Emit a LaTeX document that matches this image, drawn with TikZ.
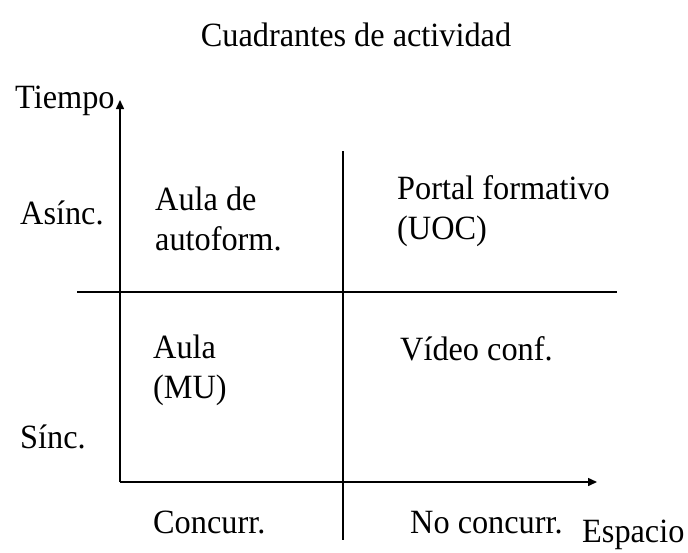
\documentclass[tikz,border=0pt]{standalone}
\usepackage{fontspec}
\setmainfont{Liberation Serif}[FakeStretch=0.95]
\usetikzlibrary{arrows.meta}
\begin{document}
\begin{tikzpicture}[x=1pt,y=-1pt,
  lbl/.style={inner sep=0pt, anchor=base west, font=\fontsize{34}{40}\selectfont, align=left},
  ln/.style={line width=1.5pt, black},
  arr/.style={ln, -{Triangle[length=9pt,width=8pt]}}]
\useasboundingbox (0,0) rectangle (688,552);
% axes and grid lines
\coordinate (O) at (120,482);
\coordinate (ytip) at (120,100);
\coordinate (xtip) at (597,482);
\coordinate (vtop) at (343,151);
\coordinate (vbot) at (343,540);
\coordinate (hl) at (77,292);
\coordinate (hr) at (617,292);
\draw[arr] (O) -- (ytip);
\draw[arr] (O) -- (xtip);
\draw[ln] (vtop) -- (vbot);
\draw[ln] (hl) -- (hr);
% texts
\node[lbl, anchor=base] (title) at (356,46) {Cuadrantes de actividad};
\node[lbl] (tiempo) at (15,108) {Tiempo};
\node[lbl] (asinc) at (20,224) {Asínc.};
\node[lbl] (q1) at (155,250) {Aula de\\autoform.};
\node[lbl] (q2) at (397,239) {Portal formativo\\(UOC)};
\node[lbl] (q3) at (153,398) {Aula\\(MU)};
\node[lbl] (q4) at (400,360) {Vídeo conf.};
\node[lbl] (sinc) at (20,448) {Sínc.};
\node[lbl] (conc) at (153,533) {Concurr.};
\node[lbl] (noconc) at (410,533) {No concurr.};
\node[lbl] (espacio) at (582,542) {Espacio};
\end{tikzpicture}
\end{document}
